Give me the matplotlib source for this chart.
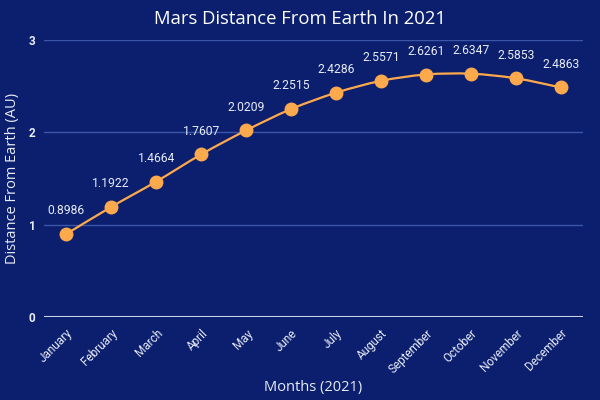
import numpy as np
import matplotlib
matplotlib.use('Agg')
import matplotlib.pyplot as plt
from matplotlib.path import Path
from matplotlib.patches import PathPatch

# ------------------------------------------------------
# DATA
# ------------------------------------------------------

months = ['January', 'February', 'March', 'April', 'May', 'June', 'July',
          'August', 'September', 'October', 'November', 'December']
distance = [0.8986, 1.1922, 1.4664, 1.7607, 2.0209, 2.2515, 2.4286,
            2.5571, 2.6261, 2.6347, 2.5853, 2.4863]
yticks = [0, 1, 2, 3]

bg = '#0b1f6e'
orange = '#ffa94d'

# ------------------------------------------------------
# PLOT
# ------------------------------------------------------

fig = plt.figure(figsize=(6, 4), dpi=100, facecolor=bg)
ax1 = fig.add_axes([0.073, 0.2075, 0.899, 0.6925])
ax1.set_facecolor(bg)

x = np.arange(len(months))
y = np.array(distance)

# smooth line through points (catmull-rom as bezier segments)
verts = [(x[0], y[0])]
codes = [Path.MOVETO]
for i in range(len(x) - 1):
	p0 = (x[max(i - 1, 0)], y[max(i - 1, 0)])
	p1 = (x[i], y[i])
	p2 = (x[i + 1], y[i + 1])
	p3 = (x[min(i + 2, len(x) - 1)], y[min(i + 2, len(x) - 1)])
	c1 = (p1[0] + (p2[0] - p0[0]) / 6.0, p1[1] + (p2[1] - p0[1]) / 6.0)
	c2 = (p2[0] - (p3[0] - p1[0]) / 6.0, p2[1] - (p3[1] - p1[1]) / 6.0)
	verts += [c1, c2, p2]
	codes += [Path.CURVE4] * 3
ax1.add_patch(PathPatch(Path(verts, codes), facecolor='none', edgecolor=orange, lw=1.6, zorder=3))
ax1.plot(x, y, 'o', color=orange, markersize=9, zorder=4)

for xi, yi in zip(x, y):
	ax1.annotate('%.4f' % yi, (xi, yi), xytext=(0, 12), textcoords='offset points',
				 ha='center', va='bottom', color='#e8ecf8', fontsize=8.7, family='Roboto')

ax1.set_xlim(-0.5, len(months) - 0.5)
ax1.set_ylim(0, 3)
ax1.set_yticks(yticks)
ax1.set_yticklabels([str(t) for t in yticks], family='Roboto', fontweight='bold', fontsize=8.5, color='#e8ecf8')
ax1.set_xticks(x)
ax1.set_xticklabels(months, rotation=45, ha='right', rotation_mode='anchor',
					family='Roboto', fontsize=8.5, color='#e8ecf8')
ax1.tick_params(length=0, pad=6)
ax1.tick_params(axis='x', pad=7)

ax1.grid(True, axis='y', color='#3b55a8', lw=1)
for s in ax1.spines.values():
	s.set_visible(False)
ax1.axhline(0, color='#c9d2ef', lw=1.5, zorder=2)
ax1.set_axisbelow(True)

ax1.set_ylabel('Distance From Earth (AU)', family='Open Sans', fontsize=10.5, color='#e8ecf8', labelpad=6)
ax1.set_xlabel('Months (2021)', family='Open Sans', fontsize=10.5, color='#e8ecf8', labelpad=3)
fig.suptitle('Mars Distance From Earth In 2021', family='Open Sans', fontsize=13.3, color='white', y=0.975)

fig.savefig('out.png', dpi=100, facecolor=bg)
